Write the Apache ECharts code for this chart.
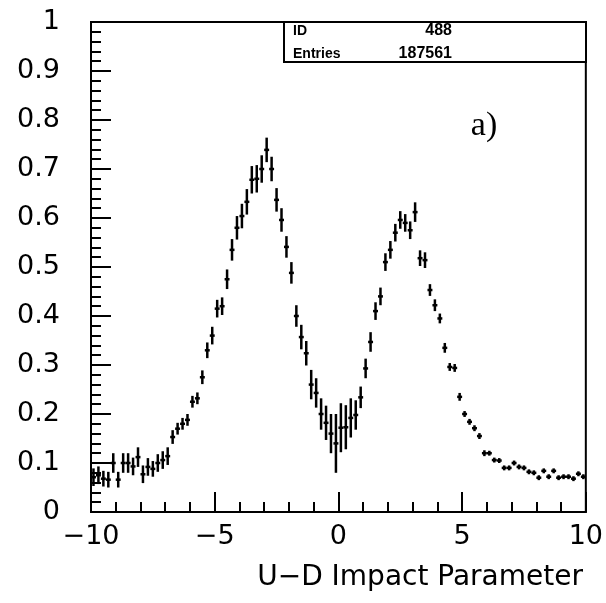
<!DOCTYPE html>
<html>
<head>
<meta charset="utf-8">
<script src="https://cdn.jsdelivr.net/npm/echarts@6/dist/echarts.min.js"></script>
<style>
html,body{margin:0;padding:0;background:#fff;}
#chart{width:606px;height:603px;}
</style>
</head>
<body>
<div id="chart"></div>
<script>
// Histogram bin centers (bin width 0.2)
const binCenters = [
 -9.9,-9.7,-9.5,-9.3,-9.1,-8.9,-8.7,-8.5,-8.3,-8.1,
 -7.9,-7.7,-7.5,-7.3,-7.1,-6.9,-6.7,-6.5,-6.3,-6.1,
 -5.9,-5.7,-5.5,-5.3,-5.1,-4.9,-4.7,-4.5,-4.3,-4.1,
 -3.9,-3.7,-3.5,-3.3,-3.1,-2.9,-2.7,-2.5,-2.3,-2.1,
 -1.9,-1.7,-1.5,-1.3,-1.1,-0.9,-0.7,-0.5,-0.3,-0.1,
 0.1,0.3,0.5,0.7,0.9,1.1,1.3,1.5,1.7,1.9,
 2.1,2.3,2.5,2.7,2.9,3.1,3.3,3.5,3.7,3.9,
 4.1,4.3,4.5,4.7,4.9,5.1,5.3,5.5,5.7,5.9,
 6.1,6.3,6.5,6.7,6.9,7.1,7.3,7.5,7.7,7.9,
 8.1,8.3,8.5,8.7,8.9,9.1,9.3,9.5,9.7,9.9
];
const binHalfWidth = 0.1;
const values = [
 0.071,0.075,0.068,0.066,0.100,0.066,0.100,0.100,0.093,0.112,
 0.077,0.092,0.088,0.100,0.106,0.114,0.153,0.170,0.180,0.188,
 0.225,0.232,0.275,0.330,0.360,0.415,0.420,0.475,0.535,0.580,
 0.604,0.633,0.678,0.680,0.700,0.739,0.700,0.637,0.596,0.541,
 0.488,0.400,0.357,0.324,0.260,0.243,0.200,0.182,0.160,0.140,
 0.172,0.173,0.192,0.198,0.234,0.293,0.347,0.410,0.440,0.510,
 0.535,0.570,0.596,0.590,0.575,0.612,0.518,0.514,0.453,0.422,
 0.395,0.335,0.296,0.294,0.235,0.200,0.184,0.171,0.155,0.120,
 0.120,0.106,0.105,0.090,0.090,0.100,0.092,0.090,0.082,0.080,
 0.070,0.084,0.072,0.084,0.070,0.072,0.072,0.068,0.078,0.072
];
const errors = [
 0.018,0.018,0.016,0.016,0.020,0.016,0.020,0.020,0.018,0.020,
 0.018,0.018,0.016,0.018,0.018,0.018,0.014,0.012,0.012,0.012,
 0.012,0.012,0.014,0.016,0.018,0.018,0.018,0.020,0.022,0.024,
 0.025,0.026,0.028,0.028,0.028,0.025,0.025,0.024,0.024,0.022,
 0.022,0.022,0.025,0.025,0.030,0.030,0.032,0.035,0.040,0.060,
 0.050,0.045,0.040,0.030,0.022,0.020,0.020,0.018,0.018,0.018,
 0.018,0.018,0.018,0.018,0.018,0.020,0.016,0.016,0.012,0.012,
 0.010,0.010,0.008,0.008,0.008,0.006,0.006,0.006,0.006,0.006,
 0.005,0.005,0.005,0.005,0.005,0.005,0.005,0.005,0.005,0.005,
 0.005,0.005,0.005,0.005,0.005,0.005,0.005,0.005,0.005,0.005
];
const xTickLabels = {"-10":"\u221210","-5":"\u22125","0":"0","5":"5","10":"10"};
const statsId = "488";
const statsEntries = "187561";

const chart = echarts.init(document.getElementById('chart'), null, {renderer:'canvas'});
const seriesData = binCenters.map((x,i)=>[x, values[i], errors[i]]);
const labelFont = {fontFamily:'DejaVu Sans', fontSize:27, color:'#000'};

chart.setOption({
  backgroundColor:'#fff',
  animation:false,
  grid:{left:91,right:20,top:22,bottom:91,show:true,borderColor:'#000',borderWidth:2,backgroundColor:'transparent'},
  xAxis:{
    type:'value',min:-10,max:10,interval:5,
    axisLine:{show:true,onZero:false,lineStyle:{color:'#000',width:2}},
    axisTick:{show:true,inside:true,length:20,lineStyle:{color:'#000',width:2}},
    minorTick:{show:true,splitNumber:5,length:10,lineStyle:{color:'#000',width:2}},
    splitLine:{show:false},
    axisLabel:Object.assign({margin:11,formatter:v=>xTickLabels[String(v)]||String(v)},labelFont)
  },
  yAxis:{
    type:'value',min:0,max:1,interval:0.1,
    axisLine:{show:true,onZero:false,lineStyle:{color:'#000',width:2}},
    axisTick:{show:true,inside:true,length:20,lineStyle:{color:'#000',width:2}},
    minorTick:{show:true,splitNumber:5,length:10,lineStyle:{color:'#000',width:2}},
    splitLine:{show:false},
    axisLabel:Object.assign({margin:31,formatter:v=>String(Math.round(v*10)/10)},labelFont)
  },
  series:[{
    type:'custom',
    data:seriesData,
    renderItem:function(params,api){
      const x=api.value(0), y=api.value(1), e=api.value(2);
      const c=api.coord([x,y]);
      const t=api.coord([x,y+e]);
      const b=api.coord([x,y-e]);
      const l=api.coord([x-binHalfWidth,y]);
      const r=api.coord([x+binHalfWidth,y]);
      return {type:'group',children:[
        {type:'line',shape:{x1:c[0],y1:t[1],x2:c[0],y2:b[1]},style:{stroke:'#000',lineWidth:2.5}},
        {type:'line',shape:{x1:l[0],y1:c[1],x2:r[0],y2:c[1]},style:{stroke:'#000',lineWidth:2.5}}
      ]};
    }
  }],
  graphic:[
    {type:'rect',shape:{x:284,y:22,width:302,height:40},style:{fill:'#fff',stroke:'#000',lineWidth:2},z:10},
    {type:'text',x:293,y:31,style:{text:'ID',font:'bold 14px "Liberation Sans"',fill:'#000',textVerticalAlign:'middle'},z:11},
    {type:'text',x:452,y:31,style:{text:statsId,font:'bold 16px "Liberation Sans"',fill:'#000',textAlign:'right',textVerticalAlign:'middle'},z:11},
    {type:'text',x:293,y:54,style:{text:'Entries',font:'bold 14px "Liberation Sans"',fill:'#000',textVerticalAlign:'middle'},z:11},
    {type:'text',x:452,y:54,style:{text:statsEntries,font:'bold 16px "Liberation Sans"',fill:'#000',textAlign:'right',textVerticalAlign:'middle'},z:11},
    {type:'text',x:484,y:126,style:{text:'a)',font:'34px "Liberation Serif"',fill:'#000',textAlign:'center',textVerticalAlign:'middle'},z:11},
    {type:'text',x:583,y:578,style:{text:'U\u2212D Impact Parameter',font:'28px "DejaVu Sans"',fill:'#000',textAlign:'right',textVerticalAlign:'middle'},z:11}
  ]
});
</script>
</body>
</html>
